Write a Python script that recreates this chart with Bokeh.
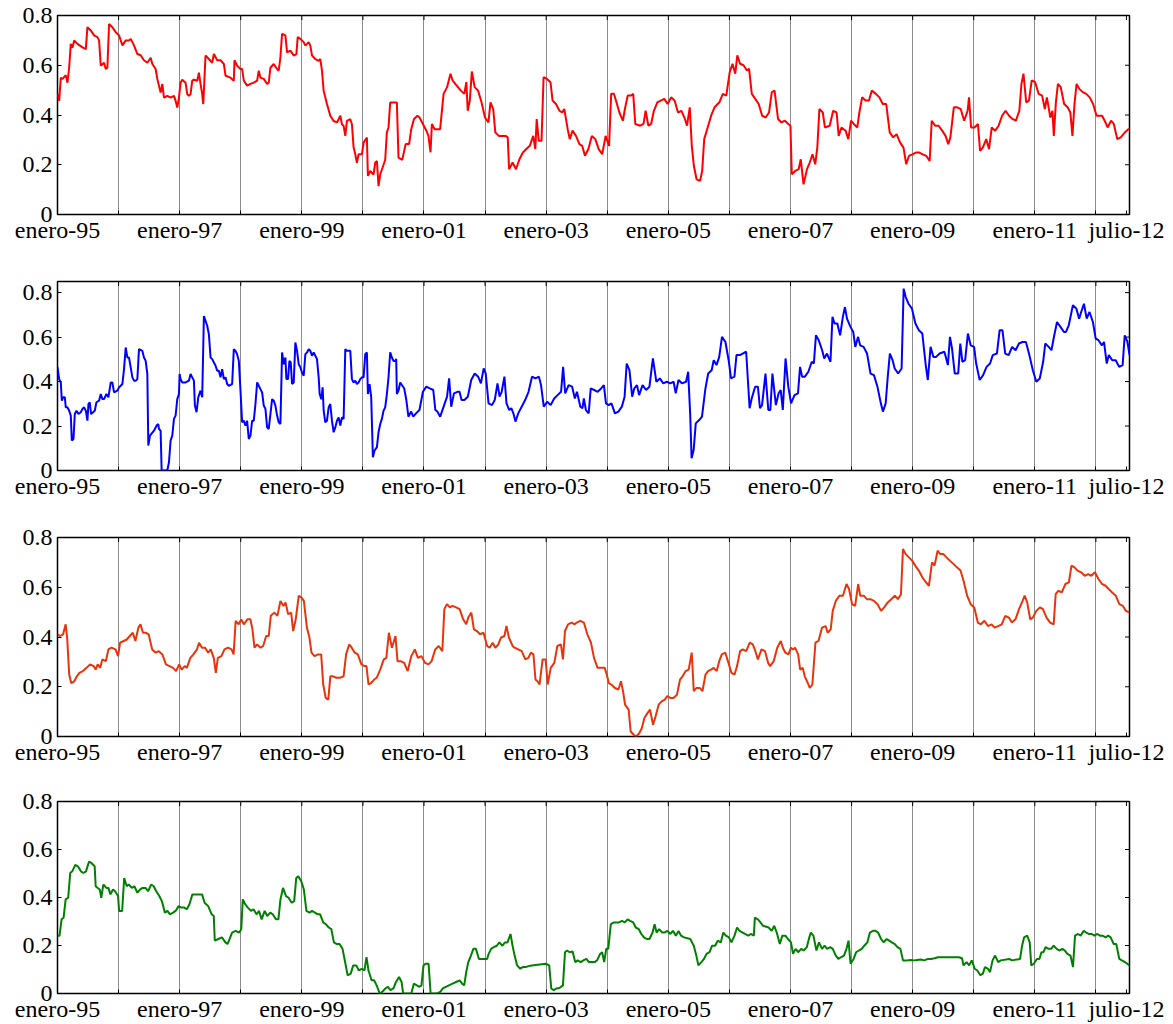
import numpy as np
from bokeh.plotting import figure
from bokeh.models import FixedTicker, Range1d
from bokeh.layouts import column
from bokeh.embed import file_html
from bokeh.resources import INLINE

# ---- data: (months since enero-1995, value) ----
red_series = [
(0,0.484),(0.33,0.457),(0.65,0.55),(0.98,0.545),(1.63,0.56),(1.96,0.53),(2.29,0.59),(2.61,0.686),(2.94,0.67),(3.27,0.70),
(3.92,0.686),(4.9,0.672),(5.56,0.665),(5.88,0.753),(6.54,0.74),(7.19,0.72),(7.84,0.713),(8.17,0.70),(8.5,0.598),(9.15,0.61),
(9.48,0.585),(9.8,0.59),(10.13,0.766),(10.78,0.753),(11.44,0.733),(12.09,0.72),(12.75,0.68),(13.4,0.70),(14.05,0.70),(14.38,0.706),
(15.03,0.68),(15.69,0.645),(16.34,0.64),(16.99,0.62),(17.65,0.61),(18.3,0.63),(18.63,0.605),(19.28,0.585),(19.61,0.545),(20.26,0.49),
(20.59,0.525),(20.92,0.47),(21.57,0.477),(22.22,0.47),(22.88,0.477),(23.2,0.457),(23.53,0.43),(23.86,0.47),(24.18,0.53),(24.51,0.542),
(25.16,0.53),(25.49,0.484),(25.82,0.477),(26.14,0.484),(26.47,0.538),(26.8,0.542),(27.45,0.538),(27.78,0.57),(28.1,0.525),(28.43,0.484),
(28.63,0.444),(28.76,0.497),(29.08,0.639),(29.74,0.625),(30.39,0.61),(30.72,0.645),(31.37,0.62),(32.03,0.62),(32.68,0.605),(33.01,0.558),
(33.99,0.55),(34.64,0.538),(34.77,0.62),(35.29,0.598),(35.95,0.585),(36.27,0.585),(36.6,0.538),(37.25,0.518),(37.91,0.525),(38.56,0.53),
(39.22,0.538),(39.54,0.578),(39.87,0.55),(40.52,0.545),(41.18,0.525),(41.5,0.53),(41.83,0.59),(42.48,0.605),(43.14,0.585),(43.46,0.578),
(43.79,0.632),(44.12,0.726),(44.77,0.72),(45.1,0.652),(45.75,0.659),(46.41,0.639),(46.93,0.645),(47.19,0.713),(47.71,0.706),(48.37,0.693),
(48.69,0.679),(49.35,0.693),(49.67,0.679),(50.0,0.639),(50.65,0.625),(51.31,0.618),(51.63,0.625),(51.96,0.578),(52.29,0.497),(52.94,0.444),
(53.59,0.397),(54.25,0.376),(54.9,0.37),(55.23,0.383),(55.56,0.397),(55.88,0.363),(56.21,0.356),(56.54,0.316),(56.86,0.376),(57.52,0.383),
(57.84,0.363),(58.17,0.27),(58.5,0.242),(58.82,0.208),(59.15,0.242),(59.8,0.242),(60.13,0.289),(60.78,0.309),(60.98,0.155),(61.44,0.175),
(62.09,0.16),(62.42,0.208),(62.75,0.215),(63.07,0.114),(63.4,0.161),(64.05,0.20),(64.38,0.22),(64.71,0.33),(65.03,0.35),(65.36,0.45),
(66.67,0.45),(66.99,0.229),(67.73,0.22),(68.4,0.283),(69.08,0.283),(69.49,0.343),(70.03,0.384),(70.71,0.397),(71.11,0.39),(71.79,0.364),
(72.47,0.337),(72.87,0.316),(73.28,0.25),(73.55,0.364),(74.09,0.343),(75.17,0.343),(75.85,0.485),(76.53,0.512),(77.21,0.566),(77.61,0.539),
(78.15,0.525),(79.24,0.498),(79.92,0.485),(80.32,0.532),(80.59,0.417),(81.0,0.458),(81.4,0.575),(81.95,0.512),(82.62,0.498),(83.3,0.451),
(83.98,0.39),(84.66,0.37),(85.06,0.451),(85.6,0.424),(86.01,0.33),(86.69,0.316),(88.04,0.316),(88.45,0.31),(88.72,0.182),(89.4,0.209),
(90.07,0.182),(90.75,0.222),(91.43,0.249),(92.11,0.263),(92.78,0.276),(93.46,0.316),(93.87,0.263),(94.14,0.384),(94.54,0.296),(95.09,0.296),
(95.49,0.552),(96.17,0.545),(96.85,0.532),(97.26,0.458),(97.93,0.444),(98.61,0.417),(99.15,0.41),(99.56,0.424),(100.23,0.343),(100.64,0.303),
(101.18,0.337),(101.86,0.316),(102.54,0.283),(103.08,0.276),(103.62,0.236),(104.3,0.263),(104.97,0.316),(105.65,0.303),(106.33,0.263),(107.01,0.242),
(107.68,0.316),(108.36,0.276),(108.77,0.485),(109.31,0.485),(109.71,0.458),(110.39,0.41),(111.07,0.377),(111.47,0.424),(112.02,0.478),(112.69,0.478),
(113.1,0.485),(113.51,0.364),(114.46,0.357),(115.13,0.364),(115.54,0.417),(116.08,0.357),(116.62,0.364),(117.16,0.417),(117.84,0.451),(118.52,0.458),
(119.2,0.465),(119.87,0.444),(120.55,0.471),(121.23,0.458),(121.91,0.41),(122.58,0.417),(123.26,0.384),(123.67,0.357),(124.21,0.431),(124.61,0.276),
(125.02,0.195),(125.56,0.141),(126.24,0.135),(126.65,0.175),(127.05,0.303),(127.73,0.35),(128.41,0.397),(129.08,0.431),(130.03,0.451),(130.71,0.485),
(131.39,0.478),(132.06,0.572),(132.61,0.606),(133.15,0.566),(133.55,0.64),(134.1,0.606),(134.77,0.6),(135.45,0.579),(135.86,0.586),(136.4,0.485),
(137.08,0.465),(137.75,0.444),(138.43,0.397),(139.11,0.39),(139.78,0.41),(140.33,0.492),(140.87,0.498),(141.55,0.384),(142.22,0.37),(142.9,0.377),
(143.58,0.364),(143.99,0.357),(144.26,0.162),(144.93,0.175),(145.61,0.182),(146.02,0.222),(146.56,0.121),(147.24,0.182),(147.78,0.209),(148.32,0.242),
(148.86,0.202),(149.27,0.269),(149.68,0.424),(150.35,0.41),(150.76,0.35),(151.7,0.357),(152.38,0.417),(153.06,0.41),(153.47,0.316),(154.01,0.35),
(154.82,0.337),(155.36,0.303),(155.9,0.377),(156.44,0.364),(157.12,0.35),(157.53,0.41),(158.07,0.471),(158.75,0.458),(159.42,0.458),(159.97,0.498),
(160.78,0.485),(161.46,0.471),(162.13,0.444),(162.81,0.444),(163.49,0.33),(164.17,0.31),(164.84,0.323),(165.52,0.29),(166.2,0.269),(166.74,0.202),
(167.28,0.236),(167.96,0.242),(168.64,0.249),(169.31,0.249),(169.99,0.242),(170.67,0.236),(171.34,0.215),(171.75,0.377),(172.43,0.357),(173.11,0.357),
(173.79,0.337),(174.46,0.316),(175.0,0.283),(175.41,0.31),(176.09,0.431),(176.77,0.431),(177.44,0.424),(178.12,0.377),(178.8,0.417),(179.07,0.471),
(179.48,0.35),(180.15,0.35),(180.83,0.364),(181.24,0.256),(181.78,0.269),(182.46,0.303),(183.0,0.263),(183.54,0.35),(184.22,0.337),(184.89,0.357),
(185.57,0.397),(186.25,0.417),(186.93,0.397),(187.6,0.384),(188.28,0.377),(188.96,0.417),(189.37,0.525),(189.77,0.566),(190.31,0.451),(190.85,0.458),
(191.39,0.539),(192.07,0.532),(192.75,0.485),(193.43,0.478),(193.97,0.424),(194.37,0.471),(195.05,0.39),(195.46,0.417),(195.73,0.316),(196.14,0.451),
(196.54,0.525),(197.09,0.512),(197.76,0.444),(198.44,0.431),(198.98,0.41),(199.39,0.316),(199.79,0.444),(200.2,0.525),(200.74,0.505),(201.42,0.492),
(202.1,0.485),(202.78,0.471),(203.45,0.444),(204.13,0.397),(205.22,0.397),(205.89,0.37),(206.3,0.35),(206.98,0.377),(207.52,0.364),(208.2,0.303),
(208.88,0.31),(209.69,0.33),(210.37,0.343),(210.64,0.343),
]

blue_series = [
(0,0.464),(0.33,0.411),(0.65,0.396),(0.85,0.314),(1.11,0.329),(1.44,0.329),(1.63,0.284),(1.96,0.284),(2.29,0.269),(2.61,0.247),
(2.81,0.135),(3.14,0.142),(3.4,0.254),(3.73,0.269),(4.12,0.254),(4.58,0.262),(4.9,0.277),(5.23,0.284),(5.56,0.269),(5.88,0.224),
(6.08,0.299),(6.34,0.307),(6.6,0.254),(6.99,0.262),(7.32,0.269),(7.65,0.307),(8.17,0.314),(8.5,0.344),(8.82,0.321),(9.15,0.321),
(9.61,0.344),(10.0,0.329),(10.46,0.396),(10.78,0.396),(11.11,0.351),(11.76,0.359),(12.09,0.374),(12.42,0.381),(12.75,0.389),(13.07,0.456),
(13.4,0.553),(13.73,0.508),(14.05,0.508),(14.38,0.464),(14.71,0.419),(15.03,0.404),(15.36,0.404),(15.69,0.411),(16.01,0.546),(16.67,0.538),
(16.99,0.508),(17.32,0.493),(17.65,0.434),(17.84,0.112),(18.17,0.157),(18.95,0.179),(19.48,0.202),(19.8,0.209),(19.93,0.187),(20.26,0.179),
(20.46,0.0),(21.57,0.0),(21.9,0.037),(22.22,0.135),(22.55,0.157),(22.88,0.232),(23.2,0.247),(23.53,0.321),(23.86,0.344),(23.99,0.434),
(24.18,0.411),(24.51,0.396),(25.16,0.396),(25.82,0.404),(26.14,0.434),(26.47,0.419),(26.8,0.404),(26.99,0.292),(27.32,0.262),(27.65,0.329),
(28.1,0.359),(28.43,0.329),(28.76,0.695),(29.08,0.673),(29.41,0.651),(29.74,0.613),(30.07,0.508),(30.39,0.501),(31.05,0.471),(31.37,0.449),
(31.7,0.449),(32.03,0.419),(32.35,0.456),(32.68,0.411),(33.01,0.419),(33.33,0.389),(33.66,0.381),(34.31,0.389),(34.64,0.546),(34.97,0.538),
(35.29,0.523),(35.62,0.493),(35.95,0.359),(36.27,0.217),(36.6,0.224),(36.93,0.202),(37.25,0.224),(37.58,0.142),(37.91,0.157),(38.24,0.224),
(38.56,0.224),(38.89,0.299),(39.22,0.396),(39.54,0.381),(39.87,0.366),(40.2,0.351),(40.52,0.292),(40.85,0.277),(41.18,0.194),(41.5,0.187),
(41.83,0.254),(42.16,0.321),(42.48,0.314),(42.81,0.292),(43.14,0.247),(43.46,0.217),(43.79,0.209),(44.12,0.531),(44.44,0.478),(44.77,0.508),
(44.97,0.411),(45.29,0.411),(45.56,0.493),(45.82,0.486),(46.08,0.389),(46.41,0.396),(46.73,0.576),(47.06,0.538),(47.39,0.478),(47.71,0.464),
(48.04,0.441),(48.37,0.426),(48.69,0.523),(49.02,0.531),(49.35,0.546),(49.67,0.538),(50.0,0.516),(50.33,0.531),(50.65,0.516),(50.98,0.501),
(51.31,0.419),(51.5,0.344),(51.83,0.321),(52.09,0.374),(52.29,0.269),(52.61,0.217),(52.94,0.224),(53.27,0.284),(53.59,0.299),(53.92,0.224),
(54.25,0.172),(54.58,0.194),(54.9,0.224),(55.23,0.239),(55.56,0.202),(55.88,0.239),(56.21,0.232),(56.54,0.546),(56.86,0.538),(57.52,0.538),
(57.84,0.411),(58.17,0.396),(58.5,0.404),(58.82,0.389),(59.15,0.396),(59.48,0.411),(59.8,0.419),(60.13,0.419),(60.46,0.523),(60.78,0.531),
(60.98,0.344),(61.31,0.389),(61.63,0.329),(61.96,0.06),(62.29,0.09),(62.75,0.105),(63.07,0.172),(63.4,0.209),(63.73,0.232),(64.05,0.269),
(64.38,0.284),(64.71,0.344),(65.03,0.419),(65.36,0.531),(65.69,0.508),(66.01,0.493),(66.34,0.493),(66.54,0.501),(66.67,0.344),(66.99,0.359),
(67.32,0.396),(68.12,0.369),(68.53,0.317),(68.94,0.242),(69.48,0.265),(69.89,0.242),(70.43,0.257),(71.11,0.272),(71.79,0.354),(72.46,0.377),
(73.14,0.369),(73.82,0.362),(74.23,0.272),(74.63,0.265),(75.18,0.242),(75.86,0.287),(76.53,0.332),(76.94,0.414),(77.35,0.287),(77.89,0.347),
(78.57,0.354),(78.98,0.354),(79.38,0.317),(79.93,0.317),(80.61,0.332),(81.28,0.407),(81.96,0.436),(82.64,0.422),(83.18,0.392),(83.73,0.459),
(84.13,0.436),(84.68,0.302),(85.36,0.294),(85.9,0.317),(86.44,0.392),(86.85,0.332),(87.26,0.354),(87.8,0.422),(88.21,0.302),(88.75,0.272),
(89.15,0.28),(89.56,0.257),(89.97,0.22),(90.51,0.257),(91.19,0.287),(91.87,0.317),(92.54,0.354),(93.22,0.422),(93.9,0.414),(94.58,0.422),
(94.99,0.384),(95.53,0.287),(96.21,0.309),(96.89,0.294),(97.57,0.324),(98.25,0.339),(98.93,0.354),(99.33,0.466),(99.74,0.347),(100.42,0.384),
(101.1,0.377),(101.64,0.324),(102.05,0.354),(102.72,0.287),(103.13,0.28),(103.4,0.324),(103.81,0.272),(104.35,0.257),(104.76,0.369),(105.44,0.362),
(106.12,0.354),(106.8,0.369),(107.34,0.384),(107.75,0.302),(108.29,0.294),(108.83,0.302),(109.51,0.257),(110.19,0.265),(110.87,0.287),(111.41,0.332),
(111.82,0.481),(112.36,0.451),(112.9,0.332),(113.31,0.369),(113.85,0.384),(114.26,0.339),(114.94,0.384),(115.62,0.362),(116.29,0.377),(116.97,0.504),
(117.65,0.399),(118.33,0.414),(119.01,0.392),(119.69,0.399),(120.37,0.392),(121.04,0.399),(121.45,0.347),(122.0,0.407),(122.67,0.392),(123.49,0.399),
(123.9,0.444),(124.3,0.25),(124.57,0.055),(124.98,0.093),(125.39,0.212),(126.07,0.227),(126.61,0.242),(127.29,0.369),(127.83,0.436),(128.51,0.451),
(128.92,0.496),(129.46,0.474),(130.0,0.511),(130.54,0.601),(131.22,0.578),(131.9,0.489),(132.31,0.414),(132.99,0.422),(133.39,0.519),(134.07,0.519),
(134.61,0.526),(135.29,0.534),(135.97,0.28),(136.38,0.324),(137.06,0.377),(137.6,0.377),(138.0,0.28),(138.41,0.294),(139.09,0.436),(139.64,0.272),
(140.04,0.272),(140.45,0.436),(141.13,0.294),(141.67,0.347),(142.08,0.362),(142.49,0.272),(143.03,0.504),(143.57,0.377),(144.11,0.302),(144.79,0.339),
(145.47,0.347),(145.88,0.466),(146.28,0.422),(146.83,0.422),(147.51,0.444),(148.18,0.489),(148.59,0.481),(149.0,0.608),(149.54,0.586),(150.22,0.541),
(150.63,0.504),(151.17,0.526),(151.85,0.489),(152.25,0.691),(152.66,0.661),(153.2,0.661),(153.75,0.608),(154.29,0.691),(154.7,0.735),(155.1,0.683),
(155.78,0.646),(156.33,0.623),(156.73,0.556),(157.28,0.601),(157.68,0.563),(158.36,0.556),(159.04,0.526),(159.72,0.436),(160.4,0.429),(161.08,0.377),
(161.75,0.302),(162.16,0.265),(162.7,0.302),(163.11,0.422),(163.52,0.526),(164.06,0.496),(164.47,0.459),(165.15,0.436),(165.83,0.459),(166.23,0.818),
(166.64,0.78),(167.18,0.75),(167.86,0.728),(168.54,0.661),(169.22,0.631),(169.9,0.616),(170.57,0.474),(170.98,0.407),(171.52,0.556),(172.07,0.511),
(172.61,0.511),(173.29,0.526),(174.24,0.534),(174.92,0.474),(175.33,0.601),(175.73,0.549),(176.27,0.436),(176.95,0.436),(177.36,0.571),(177.77,0.489),
(178.31,0.496),(178.85,0.616),(179.4,0.563),(180.07,0.556),(180.48,0.481),(181.16,0.407),(181.84,0.429),(182.52,0.466),(183.2,0.481),(183.74,0.519),
(184.55,0.526),(185.09,0.631),(185.64,0.631),(186.18,0.526),(186.86,0.519),(187.54,0.556),(188.22,0.541),(188.89,0.571),(189.57,0.578),(190.25,0.578),
(190.93,0.519),(191.61,0.451),(192.29,0.399),(192.97,0.414),(193.64,0.489),(194.05,0.571),(194.73,0.556),(195.27,0.541),(195.82,0.608),(196.36,0.668),
(197.04,0.646),(197.72,0.623),(198.12,0.623),(198.67,0.653),(199.48,0.743),(200.16,0.728),(200.7,0.683),(201.11,0.713),(201.65,0.75),(202.19,0.683),
(202.74,0.713),(203.41,0.668),(203.96,0.593),(204.5,0.586),(205.18,0.563),(205.59,0.578),(206.13,0.481),(206.54,0.519),(207.22,0.496),(207.89,0.496),
(208.57,0.466),(209.25,0.474),(209.66,0.608),(210.2,0.578),(210.61,0.519),
]

orange_series = [
(0,0.411),(0.5,0.404),(1.1,0.411),(1.6,0.451),(1.9,0.397),(2.3,0.249),(2.7,0.215),(3.3,0.222),(3.8,0.242),(4.3,0.256),
(5.0,0.263),(5.7,0.276),(6.4,0.29),(7.1,0.283),(7.5,0.269),(7.9,0.29),(8.4,0.276),(8.8,0.31),(9.5,0.303),(10.0,0.35),
(10.6,0.357),(11.4,0.35),(11.9,0.323),(12.3,0.377),(13.0,0.384),(13.6,0.39),(14.2,0.404),(14.8,0.417),(15.3,0.384),(15.9,0.438),
(16.3,0.451),(16.8,0.417),(17.4,0.417),(17.9,0.411),(18.6,0.35),(19.3,0.337),(19.9,0.343),(20.6,0.33),(21.3,0.29),(22.0,0.283),
(22.7,0.276),(23.3,0.263),(23.9,0.29),(24.4,0.269),(25.0,0.283),(25.4,0.276),(26.1,0.316),(26.7,0.33),(27.4,0.35),(27.8,0.377),
(28.4,0.357),(29.0,0.357),(29.6,0.337),(30.1,0.35),(30.7,0.316),(31.1,0.256),(31.5,0.316),(32.2,0.323),(32.8,0.35),(33.5,0.357),
(34.2,0.35),(34.6,0.33),(35.0,0.465),(35.6,0.451),(36.1,0.471),(36.6,0.451),(37.3,0.471),(37.9,0.471),(38.3,0.431),(38.7,0.357),
(39.2,0.37),(39.9,0.357),(40.4,0.364),(41.0,0.404),(41.5,0.404),(41.9,0.485),(42.6,0.498),(43.2,0.485),(43.8,0.545),(44.4,0.525),
(44.8,0.539),(45.3,0.492),(45.9,0.498),(46.3,0.424),(46.8,0.471),(47.4,0.566),(47.9,0.559),(48.4,0.545),(49.0,0.438),(49.5,0.397),
(49.9,0.337),(50.5,0.323),(51.2,0.33),(51.8,0.33),(52.2,0.209),(52.7,0.155),(53.2,0.148),(53.6,0.242),(54.1,0.242),(54.8,0.236),
(55.5,0.236),(56.2,0.242),(56.7,0.33),(57.3,0.37),(57.8,0.357),(58.4,0.337),(59.0,0.33),(59.7,0.29),(60.3,0.283),(60.7,0.283),
(61.1,0.209),(61.6,0.215),(62.2,0.229),(62.7,0.236),(63.4,0.269),(64.1,0.31),(64.6,0.316),(65.1,0.417),(65.7,0.357),(66.4,0.404),
(66.8,0.303),(67.4,0.303),(68.1,0.296),(68.8,0.263),(69.5,0.323),(70.2,0.35),(70.8,0.316),(71.5,0.323),(72.2,0.296),(72.9,0.29),
(73.5,0.303),(74.2,0.35),(74.9,0.364),(75.6,0.343),(76.0,0.512),(76.5,0.532),(77.1,0.519),(77.6,0.525),(78.3,0.519),(79.0,0.512),
(79.7,0.471),(80.3,0.451),(80.7,0.478),(81.3,0.498),(81.8,0.431),(82.4,0.424),(83.0,0.411),(83.7,0.417),(84.4,0.364),(84.9,0.357),
(85.5,0.377),(86.0,0.357),(86.6,0.37),(87.1,0.397),(87.8,0.404),(88.2,0.444),(88.7,0.397),(89.4,0.364),(89.8,0.357),(90.5,0.35),
(91.2,0.343),(91.9,0.31),(92.5,0.316),(93.0,0.337),(93.5,0.33),(93.9,0.229),(94.3,0.222),(94.7,0.209),(95.3,0.31),(95.9,0.31),
(96.3,0.209),(96.9,0.276),(97.6,0.296),(98.2,0.364),(98.9,0.37),(99.3,0.31),(99.7,0.424),(100.3,0.451),(101.0,0.458),(101.6,0.451),
(102.0,0.458),(102.7,0.465),(103.4,0.458),(104.1,0.411),(104.8,0.377),(105.4,0.316),(106.1,0.276),(106.8,0.276),(107.5,0.276),(107.9,0.249),
(108.3,0.215),(108.8,0.209),(109.5,0.195),(110.2,0.189),(110.7,0.222),(111.1,0.182),(111.5,0.128),(112.2,0.108),(112.6,0.02),(113.2,0.007),
(113.7,0.0),(114.3,0.013),(114.8,0.034),(115.3,0.074),(115.9,0.094),(116.4,0.108),(117.0,0.047),(117.5,0.081),(118.1,0.128),(118.7,0.141),
(119.3,0.148),(119.8,0.162),(120.4,0.155),(121.0,0.155),(121.7,0.168),(122.3,0.229),(122.8,0.242),(123.4,0.263),(124.0,0.269),(124.6,0.337),
(125.0,0.182),(125.5,0.195),(126.2,0.195),(126.7,0.182),(127.3,0.249),(127.8,0.263),(128.4,0.269),(128.9,0.276),(129.5,0.263),(130.0,0.303),
(130.5,0.33),(131.2,0.337),(131.9,0.29),(132.4,0.256),(133.0,0.249),(133.5,0.283),(134.1,0.343),(134.6,0.35),(135.3,0.343),(136.0,0.377),
(136.6,0.37),(137.1,0.343),(137.6,0.31),(138.3,0.35),(139.0,0.343),(139.6,0.296),(140.0,0.283),(140.7,0.303),(141.4,0.357),(142.1,0.384),
(142.5,0.357),(143.0,0.337),(143.6,0.33),(144.1,0.357),(144.5,0.35),(144.9,0.357),(145.5,0.33),(145.9,0.269),(146.4,0.276),(146.8,0.242),
(147.4,0.215),(147.8,0.195),(148.3,0.209),(148.9,0.377),(149.5,0.384),(150.2,0.438),(150.9,0.444),(151.3,0.417),(151.9,0.431),(152.3,0.505),
(152.9,0.545),(153.6,0.566),(154.3,0.566),(155.0,0.613),(155.5,0.593),(156.1,0.532),(156.7,0.525),(157.3,0.613),(157.7,0.566),(158.4,0.566),
(159.0,0.552),(159.7,0.552),(160.4,0.545),(161.1,0.532),(161.8,0.505),(162.4,0.519),(163.1,0.539),(163.8,0.552),(164.5,0.566),(165.1,0.552),
(165.7,0.572),(166.1,0.754),(166.6,0.734),(167.2,0.721),(167.9,0.707),(168.5,0.687),(169.2,0.667),(169.9,0.64),(170.6,0.62),(171.2,0.606),
(171.8,0.7),(172.3,0.687),(172.9,0.747),(173.4,0.734),(174.0,0.734),(174.6,0.721),(175.3,0.707),(176.0,0.694),(176.7,0.68),(177.4,0.667),
(178.0,0.626),(178.7,0.566),(179.4,0.532),(180.1,0.519),(180.8,0.458),(181.4,0.451),(182.1,0.465),(182.8,0.444),(183.5,0.451),(184.1,0.438),
(184.8,0.444),(185.5,0.451),(186.2,0.485),(186.9,0.478),(187.5,0.458),(188.2,0.471),(188.9,0.512),(189.6,0.545),(190.0,0.566),(190.5,0.539),
(191.1,0.471),(191.6,0.478),(192.3,0.505),(193.0,0.519),(193.6,0.512),(194.3,0.478),(195.0,0.458),(195.7,0.451),(196.1,0.572),(196.6,0.586),
(197.3,0.579),(198.0,0.613),(198.7,0.62),(199.2,0.687),(199.8,0.68),(200.4,0.667),(201.1,0.66),(201.8,0.646),(202.5,0.653),(203.1,0.646),
(203.8,0.66),(204.5,0.633),(205.2,0.613),(205.9,0.606),(206.5,0.593),(207.2,0.579),(207.9,0.566),(208.6,0.532),(209.3,0.525),(209.9,0.505),
(210.6,0.498),
]

green_series = [
(0,0.241),(0.4,0.241),(0.8,0.309),(1.2,0.316),(1.6,0.392),(2.1,0.399),(2.5,0.502),(2.9,0.509),(3.5,0.536),(4.0,0.53),
(4.6,0.509),(5.1,0.502),(5.6,0.509),(6.2,0.55),(6.7,0.543),(7.3,0.53),(7.5,0.447),(7.9,0.44),(8.3,0.433),(8.6,0.399),
(9.0,0.454),(9.6,0.44),(10.0,0.44),(10.4,0.413),(10.9,0.433),(11.3,0.426),(11.9,0.406),(12.1,0.344),(12.7,0.344),(13.1,0.481),
(13.6,0.447),(14.0,0.454),(14.6,0.44),(15.1,0.447),(15.7,0.42),(16.2,0.433),(16.7,0.44),(17.3,0.44),(17.8,0.426),(18.4,0.454),
(18.9,0.447),(19.4,0.426),(20.0,0.406),(20.5,0.385),(21.1,0.337),(21.6,0.344),(22.1,0.33),(22.7,0.337),(23.2,0.344),(23.8,0.364),
(24.3,0.358),(24.9,0.358),(25.4,0.351),(25.9,0.371),(26.5,0.413),(27.0,0.413),(27.8,0.413),(28.4,0.413),(28.9,0.378),(29.6,0.364),
(30.3,0.33),(30.7,0.323),(30.9,0.22),(31.6,0.227),(32.3,0.234),(33.0,0.213),(33.4,0.206),(33.8,0.227),(34.3,0.254),(35.0,0.261),
(35.7,0.254),(36.1,0.268),(36.4,0.392),(36.9,0.371),(37.4,0.358),(38.0,0.344),(38.5,0.351),(39.1,0.33),(39.6,0.344),(40.1,0.309),
(40.7,0.344),(41.2,0.323),(41.8,0.337),(42.3,0.33),(42.9,0.309),(43.4,0.309),(43.8,0.392),(44.3,0.44),(44.9,0.406),(45.4,0.399),
(46.0,0.378),(46.5,0.385),(46.9,0.481),(47.3,0.488),(47.9,0.468),(48.4,0.433),(48.9,0.344),(49.5,0.337),(50.0,0.344),(50.6,0.337),
(51.1,0.33),(51.6,0.33),(52.2,0.296),(52.7,0.289),(53.3,0.275),(53.8,0.268),(54.3,0.213),(54.9,0.206),(55.4,0.206),(56.0,0.186),
(56.5,0.131),(57.0,0.076),(57.6,0.083),(58.1,0.117),(58.7,0.117),(59.2,0.096),(59.8,0.103),(60.3,0.096),(60.7,0.151),(61.1,0.096),
(61.7,0.055),(62.2,0.055),(62.7,0.034),(63.3,0.0),(63.8,0.007),(64.4,0.021),(64.9,0.028),(65.4,0.014),(66.0,0.021),(66.5,0.048),
(67.1,0.069),(67.6,0.048),(67.9,0.0),(69.5,0.0),(70.0,0.041),(70.6,0.034),(71.1,0.028),(71.5,0.034),(71.9,0.117),(72.3,0.124),
(72.9,0.124),(73.3,0.0),(74.6,0.0),(75.2,0.007),(75.7,0.021),(76.3,0.028),(76.9,0.034),(77.6,0.041),(78.3,0.048),(79.0,0.055),
(79.5,0.041),(79.9,0.034),(80.3,0.089),(80.7,0.131),(81.1,0.151),(81.7,0.186),(82.2,0.186),(82.8,0.144),(84.4,0.144),(84.7,0.165),
(85.2,0.186),(85.7,0.193),(86.3,0.199),(86.8,0.213),(87.4,0.199),(87.9,0.213),(88.4,0.213),(89.0,0.248),(89.4,0.199),(89.8,0.158),
(90.3,0.117),(90.9,0.103),(91.4,0.11),(92.0,0.11),(92.5,0.114),(93.2,0.117),(95.9,0.124),(96.6,0.117),(97.0,0.021),(97.5,0.014),
(98.0,0.021),(98.6,0.023),(99.3,0.034),(99.7,0.172),(100.1,0.179),(100.6,0.172),(101.2,0.175),(101.7,0.131),(102.2,0.138),(102.8,0.131),
(103.3,0.138),(103.9,0.144),(104.4,0.131),(105.5,0.131),(106.0,0.138),(106.6,0.165),(107.0,0.172),(107.4,0.131),(107.8,0.186),(108.2,0.186),
(108.7,0.289),(109.3,0.296),(110.3,0.296),(110.9,0.303),(111.4,0.296),(112.0,0.309),(112.5,0.303),(113.1,0.296),(113.6,0.275),(114.2,0.268),
(114.7,0.248),(115.2,0.234),(115.8,0.227),(116.3,0.227),(116.9,0.254),(117.3,0.289),(117.7,0.254),(118.2,0.268),(118.8,0.254),(119.3,0.254),
(119.8,0.261),(120.4,0.248),(120.9,0.261),(121.5,0.241),(122.0,0.261),(122.5,0.241),(123.1,0.234),(124.3,0.227),(125.0,0.199),(125.5,0.158),
(125.9,0.117),(126.5,0.131),(127.0,0.144),(127.5,0.165),(128.1,0.172),(128.6,0.199),(129.2,0.199),(129.7,0.22),(130.3,0.213),(130.8,0.254),
(131.3,0.241),(131.9,0.234),(132.4,0.213),(133.0,0.241),(133.5,0.275),(134.0,0.261),(134.6,0.254),(135.7,0.241),(136.2,0.248),(136.8,0.241),
(137.0,0.316),(137.6,0.309),(138.1,0.296),(138.6,0.282),(139.7,0.275),(140.3,0.261),(140.8,0.282),(141.3,0.254),(141.9,0.206),(142.4,0.241),
(143.0,0.241),(143.5,0.227),(144.1,0.213),(144.5,0.165),(145.0,0.186),(145.5,0.172),(146.1,0.186),(146.6,0.179),(147.2,0.193),(147.7,0.234),
(148.0,0.254),(148.5,0.241),(149.1,0.179),(149.6,0.213),(150.2,0.186),(150.7,0.199),(151.2,0.186),(151.8,0.193),(152.3,0.186),(152.9,0.158),
(153.4,0.144),(153.9,0.151),(154.5,0.158),(155.0,0.186),(155.4,0.22),(155.8,0.124),(156.4,0.144),(156.9,0.172),(157.4,0.179),(158.0,0.186),
(158.5,0.199),(159.1,0.213),(159.6,0.254),(160.2,0.261),(160.7,0.261),(161.2,0.254),(161.8,0.227),(162.3,0.213),(162.9,0.227),(163.4,0.22),
(163.9,0.213),(164.5,0.206),(165.0,0.193),(165.6,0.186),(166.1,0.138),(166.9,0.138),(167.6,0.14),(168.3,0.138),(168.9,0.14),(169.6,0.142),
(170.3,0.138),(171.0,0.144),(171.6,0.144),(172.3,0.147),(173.0,0.151),(177.1,0.151),(177.7,0.147),(178.0,0.117),(178.6,0.131),(179.1,0.117),
(179.6,0.138),(180.2,0.103),(180.7,0.096),(181.3,0.076),(181.8,0.083),(182.2,0.11),(182.8,0.103),(183.2,0.089),(183.7,0.138),(184.2,0.158),
(184.8,0.131),(185.3,0.138),(187.0,0.144),(187.5,0.138),(189.1,0.144),(189.5,0.199),(189.9,0.234),(190.5,0.241),(191.0,0.213),(191.3,0.117),
(191.8,0.124),(192.4,0.144),(192.9,0.144),(193.3,0.172),(193.7,0.172),(194.1,0.193),(194.7,0.186),(195.2,0.186),(195.7,0.199),(196.3,0.186),
(196.8,0.179),(197.4,0.186),(197.9,0.179),(198.4,0.165),(199.0,0.158),(199.5,0.11),(199.9,0.241),(200.5,0.248),(201.0,0.241),(201.6,0.261),
(202.1,0.254),(202.6,0.248),(203.2,0.248),(203.7,0.241),(204.3,0.248),(204.8,0.241),(205.3,0.241),(205.9,0.234),(206.4,0.241),(206.9,0.234),
(207.5,0.206),(208.0,0.206),(208.6,0.144),(209.1,0.138),(209.7,0.131),(210.6,0.117),
]

# ---- axes / ticks ----
start_year = 1995
end_month = 210.6
grid_years = list(range(1996, 2013))
tick_years = list(range(1995, 2013)) + [2012.5]
x_tick_labels = {1995: "enero-95", 1996: "", 1997: "enero-97", 1998: "", 1999: "enero-99",
                 2000: "", 2001: "enero-01", 2002: "", 2003: "enero-03", 2004: "",
                 2005: "enero-05", 2006: "", 2007: "enero-07", 2008: "", 2009: "enero-09",
                 2010: "", 2011: "enero-11", 2012: "", 2012.5: "julio-12"}
y_ticks = [0, 0.2, 0.4, 0.6, 0.8]
y_tick_labels = {0: "0", 0.2: "0.2", 0.4: "0.4", 0.6: "0.6", 0.8: "0.8"}

FONT = "liberation serif"
FSIZE = "24px"


def panel(series, color, ymax, height, bl, br, bt, bb):
    m = np.array([p[0] for p in series])
    v = np.array([p[1] for p in series])
    x = start_year + m / 12.0
    x_end = start_year + end_month / 12.0
    p = figure(width=1170, height=height,
               x_range=Range1d(start_year, x_end),
               y_range=Range1d(0, ymax),
               output_backend="svg", toolbar_location=None,
               min_border_left=bl, min_border_right=br,
               min_border_top=bt, min_border_bottom=bb)
    p.background_fill_color = "white"
    p.border_fill_color = "white"
    p.outline_line_color = "black"
    p.outline_line_width = 1.5

    # grid: vertical lines at every January
    p.xgrid.ticker = FixedTicker(ticks=grid_years)
    p.xgrid.grid_line_color = "#8c8c8c"
    p.xgrid.grid_line_width = 1
    p.ygrid.grid_line_color = None

    p.line(x, v, line_color=color, line_width=2)

    # inward ticks on the top and right edges of the box
    p.scatter(tick_years, [ymax] * len(tick_years), marker="dash", size=9,
              angle=np.pi / 2, line_color="black", line_width=1)
    p.scatter([x_end] * len(y_ticks), y_ticks, marker="dash", size=9,
              line_color="black", line_width=1)

    xa = p.xaxis[0]
    xa.ticker = FixedTicker(ticks=tick_years)
    xa.major_label_overrides = x_tick_labels
    ya = p.yaxis[0]
    ya.ticker = FixedTicker(ticks=y_ticks)
    ya.major_label_overrides = y_tick_labels
    for ax in (xa, ya):
        ax.axis_line_color = None
        ax.major_tick_in = 4
        ax.major_tick_out = 0
        ax.major_tick_line_color = "black"
        ax.minor_tick_line_color = None
        ax.major_label_text_font = FONT
        ax.major_label_text_font_size = FSIZE
        ax.major_label_text_color = "black"
    xa.major_label_standoff = 2
    ya.major_label_standoff = 5
    return p


p1 = panel(red_series, "#ff0000", 0.8, 248, 53, 40, 15, 34)
p2 = panel(blue_series, "#0000ff", 0.85, 258, 55, 40, 33, 36)
p3 = panel(orange_series, "#e8340c", 0.8, 264, 57, 41, 31, 34)
p4 = panel(green_series, "#008000", 0.8, 254, 49, 38, 31, 27)

layout = column(p1, p2, p3, p4, spacing=0)
open("out.html", "w").write(file_html(layout, INLINE))
